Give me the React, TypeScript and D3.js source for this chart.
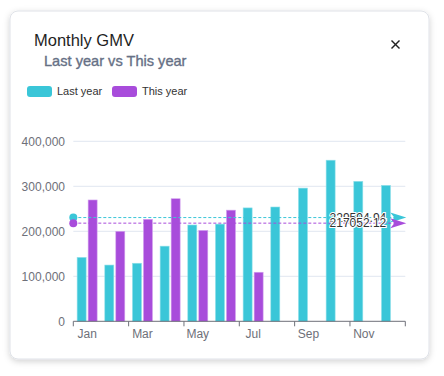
import React from "react";
import * as d3 from "d3";

const months = ["Jan","Feb","Mar","Apr","May","Jun","Jul","Aug","Sep","Oct","Nov","Dec"];
const lastYear = [142000,125000,129000,167000,214000,216000,252000,254000,296000,358000,311000,302000];
const thisYear = [269600,200000,226700,272400,202000,247000,109000];
const yTicks = [0,100000,200000,300000,400000];
const lastAvgLabel = "229594.94";
const thisAvgLabel = "217052.12";

const CYAN = "#3ac6d8";
const PURPLE = "#a84cdb";

export default function App() {
  const W = 444, H = 376;
  const x0 = 73.3, x1 = 405.3, yTop = 141.3, yBot = 321.3;
  const x = d3.scaleBand<string>().domain(months).range([x0, x1]);
  const y = d3.scaleLinear().domain([0, 400000]).range([yBot, yTop]);
  const bw = 9, gap = 2;
  const lastAvg = d3.mean(lastYear) as number;
  const thisAvg = d3.mean(thisYear) as number;
  const fmt = d3.format(",");
  const font = "Helvetica, Arial, 'Liberation Sans', sans-serif";

  const avgLine = (v: number, color: string, label: string) => {
    const yy = y(v);
    return (
      <g>
        <line x1={x0} x2={x1 - 4} y1={yy} y2={yy} stroke={color} strokeWidth={1} strokeDasharray="3,2" />
        <circle cx={x0} cy={yy} r={4} fill={color} />
        <path d={`M${x1 + 1},${yy} L${x1 - 15},${yy - 5} L${x1 - 11},${yy} L${x1 - 15},${yy + 5} Z`} fill={color} />
        <text x={x1 - 19} y={yy} dy="0.35em" textAnchor="end" fontSize={12} fill="#333"
          stroke="#fff" strokeWidth={2} paintOrder="stroke" fontFamily={font}>{label}</text>
      </g>
    );
  };

  return (
    <svg width={W} height={H} style={{ position: "absolute", left: 0, top: 0 }}>
      <defs>
        <filter id="sh" x="-10%" y="-10%" width="120%" height="120%">
          <feDropShadow dx="0" dy="2" stdDeviation="3" floodColor="#000" floodOpacity="0.18" />
        </filter>
      </defs>
      <rect x={0} y={0} width={W} height={H} fill="#fff" />
      <rect x={10} y={11} width={419} height={348} rx={8} fill="#fff" stroke="#dfe2e8" strokeWidth={1} filter="url(#sh)" />
      <text x={34} y={46} fontSize={16.5} fill="#1f1f1f" fontFamily={font}>Monthly GMV</text>
      <text x={44} y={66} fontSize={14.6} fill="#667085" stroke="#667085" strokeWidth={0.35} fontFamily={font}>Last year vs This year</text>
      <g stroke="#222" strokeWidth={1.4}>
        <line x1={391.5} y1={40.5} x2={399.5} y2={48.5} />
        <line x1={399.5} y1={40.5} x2={391.5} y2={48.5} />
      </g>
      <rect x={27} y={86} width={25} height={11} rx={3} fill={CYAN} />
      <text x={57} y={95} fontSize={11} fill="#333" fontFamily={font}>Last year</text>
      <rect x={112} y={86} width={25} height={11} rx={3} fill={PURPLE} />
      <text x={142} y={95} fontSize={11} fill="#333" fontFamily={font}>This year</text>

      {yTicks.map(t => (
        <g key={t}>
          {t > 0 && <line x1={x0} x2={x1} y1={y(t)} y2={y(t)} stroke="#e0e6f1" />}
          <text x={65} y={y(t)} dy="0.35em" textAnchor="end" fontSize={12} fill="#6e7079" fontFamily={font}>{fmt(t)}</text>
        </g>
      ))}

      {lastYear.map((v, i) => {
        const cx = (x(months[i]) as number) + x.bandwidth() / 2;
        return <rect key={"l" + i} x={cx - gap / 2 - bw} y={y(v)} width={bw} height={yBot - y(v)}
          fill={CYAN} stroke="#8fe0ea" strokeWidth={0.6} />;
      })}
      {thisYear.map((v, i) => {
        const cx = (x(months[i]) as number) + x.bandwidth() / 2;
        return <rect key={"t" + i} x={cx + gap / 2} y={y(v)} width={bw} height={yBot - y(v)}
          fill={PURPLE} stroke="#d3a3ee" strokeWidth={0.6} />;
      })}

      <line x1={x0} x2={x1} y1={yBot} y2={yBot} stroke="#6e7079" />
      {months.map((m, i) => i % 2 === 0 ? (
        <g key={m}>
          <line x1={x(m) as number} x2={x(m) as number} y1={yBot} y2={yBot + 5} stroke="#6e7079" />
          <text x={(x(m) as number) + x.bandwidth() / 2} y={yBot + 17} textAnchor="middle" fontSize={12} fill="#6e7079" fontFamily={font}>{m}</text>
        </g>
      ) : null)}
      <line x1={x1} x2={x1} y1={yBot} y2={yBot + 5} stroke="#6e7079" />

      {avgLine(lastAvg, CYAN, lastAvgLabel)}
      {avgLine(thisAvg, PURPLE, thisAvgLabel)}
    </svg>
  );
}
